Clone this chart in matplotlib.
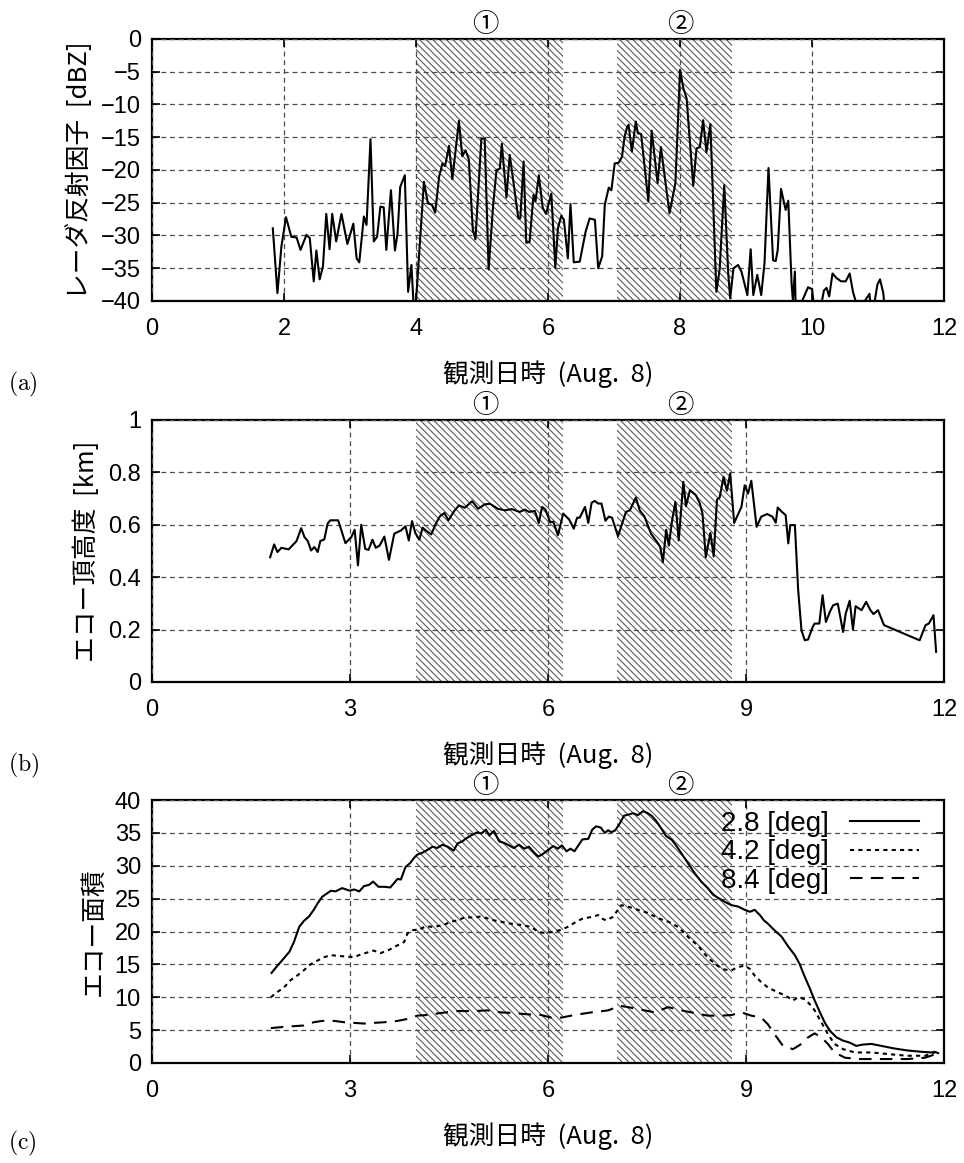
import matplotlib
matplotlib.use('Agg')
import matplotlib.pyplot as plt  # noqa

plt.rcParams['font.family'] = ['Liberation Sans', 'Noto Sans CJK JP', 'DejaVu Sans']
plt.rcParams['mathtext.fontset'] = 'cm'
plt.rcParams['hatch.linewidth'] = 0.8

JP_FONT = ['Noto Sans CJK JP', 'DejaVu Sans']
XLABEL = '観測日時  (Aug.  8)'
LINE_COLOR = 'black'
GRID_COLOR = '0.3'
HATCH_COLOR = '0.35'

# shaded periods (hours) and the marks placed above them
PERIODS = [(4.0, 6.22), (7.05, 8.78)]
PERIOD_MARKS = ['①', '②']
PERIOD_MARK_X = [5.05, 8.0]

# (a) radar reflectivity [dBZ]
refl_t = [1.83, 1.90, 1.96, 2.03, 2.11, 2.19, 2.25, 2.34, 2.39, 2.45, 2.49, 2.54,
          2.59, 2.64, 2.69, 2.73, 2.79, 2.87, 2.96, 3.05, 3.10, 3.14, 3.21, 3.25,
          3.31, 3.36, 3.41, 3.46, 3.51, 3.55, 3.62, 3.68, 3.72, 3.76, 3.83, 3.88,
          3.93, 3.96, 4.00, 4.12, 4.18, 4.24, 4.29, 4.35, 4.40, 4.44, 4.50, 4.55,
          4.65, 4.70, 4.75, 4.80, 4.86, 4.90, 4.99, 5.04, 5.10, 5.17, 5.22, 5.27,
          5.30, 5.37, 5.42, 5.55, 5.58, 5.63, 5.67, 5.72, 5.78, 5.81, 5.86, 5.92,
          5.97, 6.05, 6.11, 6.15, 6.20, 6.24, 6.30, 6.34, 6.39, 6.48, 6.57, 6.63,
          6.71, 6.76, 6.82, 6.86, 6.92, 6.96, 7.01, 7.07, 7.12, 7.16, 7.20, 7.22,
          7.27, 7.33, 7.36, 7.41, 7.52, 7.57, 7.66, 7.71, 7.84, 7.93, 8.00, 8.05,
          8.10, 8.20, 8.25, 8.30, 8.35, 8.40, 8.46, 8.55, 8.60, 8.67, 8.73, 8.76,
          8.81, 8.88, 8.93, 9.02, 9.07, 9.11, 9.17, 9.23, 9.28, 9.34, 9.41, 9.45,
          9.48, 9.53, 9.60, 9.64, 9.69, 9.71, 9.74, 9.75, 9.85, 9.94, 10.00, 10.02,
          10.15, 10.18, 10.22, 10.26, 10.31, 10.37, 10.44, 10.51, 10.57, 10.62, 10.66,
          10.80, 10.87, 10.88, 10.95, 10.99, 11.03, 11.08, 11.09]
refl_dbz = [-28.9, -38.8, -31.7, -27.2, -30.2, -30.3, -32.2, -29.9, -30.4, -37.0, -32.3, -36.7,
            -34.7, -26.7, -32.1, -26.7, -30.9, -26.7, -31.3, -28.2, -33.5, -34.1, -27.1, -28.4,
            -15.3, -30.9, -30.2, -25.6, -25.7, -32.2, -23.1, -32.3, -29.7, -22.6, -20.8, -38.6,
            -34.5, -40.0, -40.0, -21.8, -25.1, -25.3, -26.5, -21.0, -19.0, -19.4, -16.3, -21.4,
            -12.5, -17.9, -17.0, -18.4, -29.1, -30.6, -15.2, -15.2, -35.2, -25.1, -20.0, -19.8,
            -16.0, -24.2, -17.7, -27.4, -27.4, -18.7, -31.1, -31.0, -23.8, -24.8, -20.8, -25.8,
            -26.7, -23.6, -34.9, -28.9, -27.0, -27.6, -33.5, -25.2, -34.1, -34.0, -29.4, -27.4,
            -27.6, -35.0, -33.2, -25.3, -22.7, -23.1, -19.0, -18.9, -18.0, -14.9, -13.4, -13.1,
            -17.2, -12.6, -14.4, -14.5, -24.8, -14.0, -22.0, -16.5, -26.6, -22.0, -4.7, -7.5,
            -9.1, -22.4, -16.7, -16.5, -12.4, -17.3, -13.0, -38.6, -35.2, -22.3, -35.8, -39.6,
            -35.0, -34.5, -35.5, -39.1, -32.1, -39.1, -36.0, -39.1, -34.2, -19.7, -33.8, -33.9,
            -32.2, -22.9, -26.1, -24.7, -37.3, -40.0, -35.5, -40.0, -40.0, -37.9, -38.2, -40.0,
            -40.0, -38.4, -38.0, -39.3, -35.8, -36.5, -37.0, -37.0, -35.8, -38.6, -40.0,
            -40.0, -38.9, -40.0, -40.0, -37.5, -36.7, -38.8, -40.0]

# (b) echo top height [km]
top_t = [1.79, 1.85, 1.90, 1.96, 2.07, 2.19, 2.26, 2.31, 2.36, 2.41, 2.46, 2.51,
         2.55, 2.61, 2.66, 2.70, 2.82, 2.93, 3.02, 3.07, 3.12, 3.17, 3.23, 3.28,
         3.34, 3.39, 3.45, 3.52, 3.59, 3.67, 3.72, 3.77, 3.84, 3.89, 3.94, 3.99,
         4.05, 4.10, 4.14, 4.23, 4.30, 4.36, 4.43, 4.49, 4.58, 4.65, 4.74, 4.85,
         4.94, 5.04, 5.12, 5.24, 5.35, 5.45, 5.57, 5.65, 5.71, 5.80, 5.86, 5.91,
         5.96, 6.03, 6.08, 6.15, 6.23, 6.32, 6.39, 6.44, 6.48, 6.56, 6.61, 6.66,
         6.71, 6.76, 6.81, 6.87, 6.92, 6.97, 7.06, 7.18, 7.24, 7.33, 7.39, 7.46,
         7.56, 7.67, 7.70, 7.74, 7.79, 7.83, 7.88, 7.93, 7.98, 8.05, 8.09, 8.15,
         8.24, 8.30, 8.34, 8.39, 8.46, 8.51, 8.56, 8.60, 8.66, 8.71, 8.76, 8.82,
         8.93, 8.98, 9.03, 9.08, 9.16, 9.23, 9.32, 9.40, 9.45, 9.48, 9.54, 9.60,
         9.64, 9.67, 9.74, 9.79, 9.84, 9.89, 9.94, 10.01, 10.04, 10.11, 10.16, 10.21,
         10.27, 10.32, 10.39, 10.47, 10.51, 10.57, 10.62, 10.66, 10.75, 10.82, 10.88,
         10.93, 11.00, 11.09, 11.63, 11.72, 11.77, 11.84, 11.88]
top_km = [0.476, 0.525, 0.496, 0.512, 0.506, 0.538, 0.587, 0.553, 0.538, 0.502, 0.515, 0.496,
          0.538, 0.544, 0.604, 0.617, 0.617, 0.530, 0.553, 0.581, 0.445, 0.600, 0.508, 0.504,
          0.543, 0.512, 0.521, 0.555, 0.466, 0.566, 0.572, 0.578, 0.594, 0.540, 0.614, 0.568,
          0.543, 0.589, 0.580, 0.563, 0.604, 0.632, 0.645, 0.617, 0.653, 0.674, 0.665, 0.690,
          0.661, 0.678, 0.680, 0.661, 0.655, 0.660, 0.649, 0.658, 0.649, 0.653, 0.607, 0.668,
          0.658, 0.611, 0.611, 0.560, 0.643, 0.620, 0.585, 0.627, 0.627, 0.668, 0.607, 0.684,
          0.691, 0.681, 0.681, 0.615, 0.631, 0.627, 0.556, 0.649, 0.655, 0.704, 0.655, 0.632,
          0.566, 0.528, 0.515, 0.457, 0.581, 0.521, 0.617, 0.687, 0.540, 0.764, 0.671, 0.732,
          0.713, 0.681, 0.643, 0.476, 0.569, 0.479, 0.696, 0.704, 0.783, 0.730, 0.796, 0.607,
          0.668, 0.751, 0.719, 0.768, 0.592, 0.631, 0.641, 0.631, 0.608, 0.666, 0.650, 0.637,
          0.529, 0.599, 0.599, 0.350, 0.197, 0.159, 0.162, 0.210, 0.223, 0.223, 0.331, 0.229,
          0.268, 0.293, 0.299, 0.191, 0.261, 0.310, 0.200, 0.289, 0.274, 0.306, 0.276,
          0.259, 0.274, 0.217, 0.159, 0.217, 0.223, 0.255, 0.115]

# (c) echo area for three elevation angles
ELEVATIONS = ['2.8 [deg]', '4.2 [deg]', '8.4 [deg]']
area28_t = [1.81, 1.90, 1.97, 2.08, 2.15, 2.23, 2.30, 2.38, 2.45, 2.51, 2.58, 2.71,
            2.78, 2.88, 3.00, 3.06, 3.14, 3.21, 3.29, 3.35, 3.43, 3.52, 3.61, 3.72,
            3.77, 3.84, 3.91, 3.97, 4.02, 4.10, 4.17, 4.25, 4.32, 4.40, 4.48, 4.57,
            4.63, 4.70, 4.75, 4.83, 4.93, 4.99, 5.06, 5.11, 5.18, 5.26, 5.33, 5.41,
            5.48, 5.56, 5.64, 5.71, 5.79, 5.85, 5.91, 6.00, 6.08, 6.15, 6.21, 6.28,
            6.34, 6.40, 6.52, 6.61, 6.67, 6.73, 6.80, 6.86, 6.91, 6.96, 7.02, 7.09,
            7.15, 7.22, 7.29, 7.36, 7.44, 7.51, 7.57, 7.64, 7.72, 7.79, 7.87, 7.94,
            8.02, 8.12, 8.22, 8.32, 8.42, 8.50, 8.58, 8.68, 8.78, 8.88, 8.98, 9.06,
            9.13, 9.21, 9.27, 9.33, 9.43, 9.54, 9.64, 9.74, 9.81, 9.89, 9.96, 10.04,
            10.12, 10.19, 10.27, 10.37, 10.47, 10.57, 10.67, 10.77, 10.90, 11.05, 11.25,
            11.45, 11.66, 11.81, 11.86, 11.91]
area28 = [13.7, 14.8, 15.6, 16.9, 18.4, 20.7, 21.6, 22.3, 23.3, 24.3, 25.3, 26.2,
          26.1, 26.6, 26.2, 26.4, 26.1, 26.9, 27.1, 27.6, 26.8, 26.8, 26.7, 28.0,
          27.9, 29.8, 30.4, 31.2, 31.7, 32.0, 32.4, 32.9, 32.7, 33.2, 32.9, 32.3,
          33.4, 33.7, 34.1, 34.6, 35.1, 34.9, 35.5, 34.6, 35.3, 33.7, 33.5, 33.1,
          32.7, 33.2, 32.6, 32.9, 32.0, 31.4, 31.7, 32.4, 33.0, 32.6, 33.1, 32.2,
          32.6, 32.2, 34.0, 34.1, 35.5, 36.0, 35.8, 35.0, 35.4, 35.1, 35.4, 36.5,
          37.6, 37.8, 38.0, 37.7, 38.3, 38.0, 37.6, 36.8, 35.6, 34.5, 34.0, 33.1,
          31.9, 30.4, 28.9, 27.6, 26.6, 25.6, 25.1, 24.5, 24.0, 23.8, 23.3, 23.0,
          23.3, 22.5, 21.7, 21.2, 20.2, 19.2, 17.7, 16.4, 15.1, 13.1, 11.5, 9.5,
          7.7, 6.2, 4.9, 3.9, 3.4, 3.1, 2.6, 2.8, 2.9, 2.6, 2.2,
          1.9, 1.7, 1.6, 1.7, 1.5]

area42_t = [1.80, 1.90, 2.00, 2.10, 2.20, 2.30, 2.40, 2.51, 2.61, 2.71, 2.81, 2.93,
            3.06, 3.16, 3.26, 3.36, 3.46, 3.59, 3.72, 3.82, 3.87, 3.94, 4.05, 4.15,
            4.25, 4.32, 4.42, 4.53, 4.63, 4.75, 4.88, 4.98, 5.08, 5.18, 5.28, 5.43,
            5.59, 5.74, 5.86, 5.94, 6.05, 6.18, 6.30, 6.43, 6.53, 6.66, 6.76, 6.81,
            6.88, 6.98, 7.11, 7.21, 7.36, 7.52, 7.67, 7.82, 7.97, 8.07, 8.17, 8.27,
            8.37, 8.47, 8.58, 8.68, 8.78, 8.88, 8.98, 9.06, 9.13, 9.23, 9.33, 9.43,
            9.54, 9.64, 9.71, 9.79, 9.89, 9.96, 10.04, 10.14, 10.24, 10.34, 10.47, 10.65,
            10.90, 11.21, 11.45, 11.71, 11.86]
area42 = [10.0, 10.8, 11.5, 12.6, 13.3, 14.1, 15.0, 15.6, 16.1, 16.4, 16.3, 16.2,
          16.1, 16.5, 16.8, 17.1, 16.7, 17.2, 17.9, 18.4, 19.7, 20.2, 20.3, 20.8,
          20.7, 20.8, 21.0, 21.5, 21.7, 22.2, 22.1, 22.3, 22.0, 21.7, 21.5, 21.2,
          21.0, 20.7, 19.9, 19.8, 19.9, 20.2, 20.7, 21.5, 22.0, 22.2, 22.5, 22.0,
          21.7, 22.2, 24.0, 23.8, 23.3, 22.8, 22.0, 21.5, 20.7, 19.7, 18.7, 17.9,
          16.6, 15.6, 14.7, 14.2, 14.1, 14.6, 14.8, 14.3, 13.3, 12.3, 11.5, 11.0,
          10.5, 10.0, 9.5, 10.0, 9.7, 9.0, 8.0, 6.2, 4.4, 2.9, 2.1, 1.6,
          1.6, 1.3, 1.1, 1.1, 1.6]

area84_t = [1.80, 2.00, 2.30, 2.45, 2.58, 2.76, 2.91, 3.06, 3.21, 3.36, 3.52, 3.72,
            3.87, 4.02, 4.17, 4.37, 4.63, 4.88, 5.08, 5.28, 5.48, 5.69, 5.89, 6.05,
            6.20, 6.40, 6.66, 6.91, 7.09, 7.21, 7.41, 7.62, 7.82, 8.02, 8.22, 8.42,
            8.63, 8.78, 8.93, 9.08, 9.23, 9.33, 9.43, 9.56, 9.71, 9.84, 9.94, 10.04,
            10.14, 10.24, 10.34, 10.50, 10.70, 10.95, 11.21, 11.45, 11.71, 11.86]
area84 = [5.3, 5.5, 5.7, 6.2, 6.4, 6.4, 6.2, 6.1, 6.0, 6.1, 6.2, 6.4,
          6.7, 7.2, 7.3, 7.6, 7.9, 7.9, 8.0, 7.7, 7.6, 7.4, 7.3, 6.9,
          6.9, 7.3, 7.7, 8.0, 8.7, 8.5, 8.1, 7.7, 8.5, 8.0, 7.6, 7.2,
          7.2, 7.3, 7.7, 7.2, 6.9, 5.9, 4.4, 2.6, 2.1, 2.9, 3.9, 4.5,
          3.9, 2.9, 1.6, 0.8, 0.6, 0.6, 0.6, 0.6, 0.8, 1.3]


def style_axes(ax, xticks, yticks, ylim, ylabel, yticklabels=None):
    ax.set_xlim(0, 12)
    ax.set_ylim(*ylim)
    ax.set_xticks(xticks)
    ax.set_yticks(yticks)
    if yticklabels is not None:
        ax.set_yticklabels(yticklabels)
    ax.grid(True, color=GRID_COLOR, linestyle=(0, (4, 3)), linewidth=0.9)
    ax.set_axisbelow(False)
    ax.tick_params(direction='in', length=6, width=1.2, labelsize=17,
                   top=True, right=True)
    ax.tick_params(axis='x', pad=12)
    ax.tick_params(axis='y', pad=8)
    for sp in ax.spines.values():
        sp.set_linewidth(1.6)
    ax.set_xlabel(XLABEL, family=JP_FONT, fontsize=18.5, labelpad=15)
    ax.set_ylabel(ylabel, family=JP_FONT, fontsize=18.5, labelpad=6)

    # shaded periods with their marks above the axes
    for (start, end), mark, xm in zip(PERIODS, PERIOD_MARKS, PERIOD_MARK_X):
        ax.axvspan(start, end, facecolor='none', edgecolor=HATCH_COLOR,
                   hatch='\\\\\\\\\\', linewidth=0, zorder=0.5)
        ax.text(xm, 1.005, mark, transform=ax.get_xaxis_transform(),
                ha='center', va='bottom', fontsize=19, family=JP_FONT)


fig = plt.figure(figsize=(9.64, 11.63), dpi=100)

ax_a = fig.add_axes([0.1577, 0.7412, 0.8216, 0.2253])
ax_a.plot(refl_t, refl_dbz, color=LINE_COLOR, linewidth=1.5, zorder=3)
style_axes(ax_a, range(0, 13, 2), range(-40, 1, 5), (-40, 0),
           'レーダ反射因子  [dBZ]')

ax_b = fig.add_axes([0.1577, 0.4136, 0.8216, 0.2253])
ax_b.plot(top_t, top_km, color=LINE_COLOR, linewidth=1.5, zorder=3)
style_axes(ax_b, range(0, 13, 3), [0, 0.2, 0.4, 0.6, 0.8, 1.0], (0, 1),
           'エコー頂高度  [km]', ['0', '0.2', '0.4', '0.6', '0.8', '1'])

ax_c = fig.add_axes([0.1577, 0.0860, 0.8216, 0.2261])
ax_c.plot(area28_t, area28, color=LINE_COLOR, linewidth=1.5, zorder=3,
          label=ELEVATIONS[0])
ax_c.plot(area42_t, area42, color=LINE_COLOR, linewidth=1.5, zorder=3,
          linestyle=(0, (2, 2)), label=ELEVATIONS[1])
ax_c.plot(area84_t, area84, color=LINE_COLOR, linewidth=1.5, zorder=3,
          linestyle=(0, (6, 4)), label=ELEVATIONS[2])
style_axes(ax_c, range(0, 13, 3), range(0, 41, 5), (0, 40), 'エコー面積')
leg = ax_c.legend(loc='upper right', bbox_to_anchor=(0.983, 1.0), frameon=False,
                  markerfirst=False, fontsize=20, handlelength=2.5,
                  handletextpad=0.75, labelspacing=0.08, borderaxespad=0.0)
for txt in leg.get_texts():
    txt.set_ha('right')

for label, ypos in zip(['(a)', '(b)', '(c)'], [0.664, 0.337, 0.012]):
    fig.text(0.008, ypos, r'$\mathrm{%s}$' % label, fontsize=17)

fig.savefig('out.png', dpi=100)
